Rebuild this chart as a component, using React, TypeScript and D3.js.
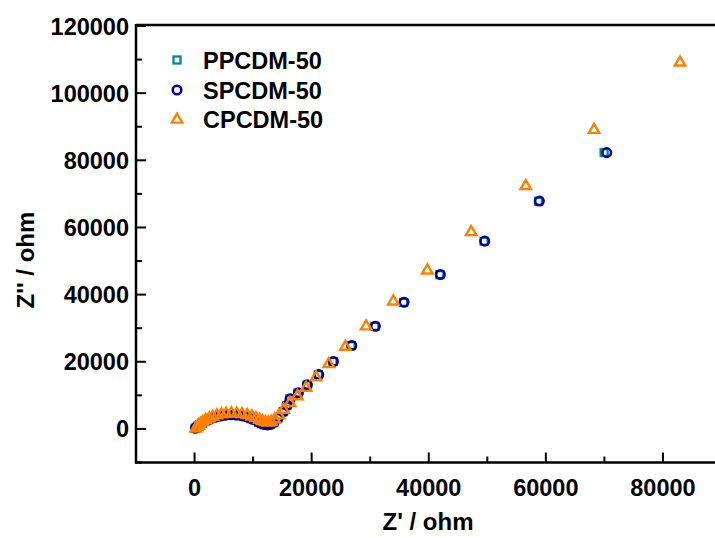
import React from "react";
import * as d3 from "d3";

const seriesNames = ["PPCDM-50", "SPCDM-50", "CPCDM-50"];
const seriesColors = ["#008C8C", "#0000A0", "#FF8000"];

const xTicks = [0, 20000, 40000, 60000, 80000];
const yTicks = [0, 20000, 40000, 60000, 80000, 100000, 120000];

// PPCDM-50 (squares) — mostly hidden behind circles
const ppX = [100, 300, 550, 850, 1250, 1750, 2350, 2950, 3650, 4450, 5250, 6150, 7050, 7950, 8850, 9650, 10350, 10950, 11450, 11950, 12450, 12950, 13550, 14250, 15150, 15750, 16250, 17650, 19200, 21150, 23650, 26750, 30800, 35700, 41900, 49450, 58750, 69950];
const ppY = [150, 450, 850, 1250, 1750, 2250, 2750, 3150, 3550, 3850, 4050, 4150, 4100, 3900, 3550, 3050, 2550, 1950, 1550, 1250, 1150, 1350, 1950, 3250, 5150, 6950, 8900, 10700, 13100, 16150, 20050, 24800, 30550, 37700, 45950, 55900, 67800, 82300];

// SPCDM-50 (circles)
const spX = [150, 350, 600, 900, 1300, 1800, 2400, 3000, 3700, 4500, 5300, 6200, 7100, 8000, 8900, 9700, 10400, 11000, 11500, 12000, 12500, 13000, 13600, 14300, 15200, 15800, 16310, 17730, 19270, 21210, 23710, 26850, 30880, 35780, 41980, 49560, 58890, 70400];
const spY = [200, 500, 900, 1300, 1800, 2300, 2800, 3200, 3600, 3900, 4100, 4200, 4150, 3950, 3600, 3100, 2600, 2000, 1600, 1300, 1200, 1400, 2000, 3300, 5200, 7000, 8940, 10730, 13120, 16190, 20070, 24840, 30590, 37740, 46000, 55930, 67860, 82290];

// CPCDM-50 (triangles)
const cpX = [200, 400, 700, 1000, 1400, 1900, 2500, 3100, 3800, 4600, 5400, 6300, 7200, 8100, 9000, 9800, 10500, 11100, 11600, 12100, 12600, 13100, 13700, 14400, 15200, 16300, 17560, 19040, 20750, 22920, 25760, 29300, 33950, 39760, 47240, 56570, 68230, 82920];
const cpY = [300, 700, 1200, 1700, 2200, 2800, 3300, 3800, 4200, 4500, 4700, 4800, 4750, 4600, 4300, 3900, 3400, 2900, 2500, 2200, 2100, 2300, 3000, 4200, 5900, 7900, 9930, 12400, 15590, 19470, 24630, 30710, 38140, 47380, 58800, 72510, 89240, 109300];

const W = 715;
const H = 538;
const left = 136;
const top = 26;
const bottom = 462.5;
const rightPx = 721.5;

const x = d3.scaleLinear().domain([-10000, 90000]).range([left, rightPx]);
const y = d3.scaleLinear().domain([-10000, 120000]).range([bottom, top]);

const font = "'Liberation Sans', Arial, Helvetica, sans-serif";

const Square = ({ cx, cy, color, s = 7 }: any) => (
  <rect x={cx - s / 2} y={cy - s / 2} width={s} height={s} fill="none" stroke={color} strokeWidth={2.3} />
);
const Circle = ({ cx, cy, color }: any) => (
  <circle cx={cx} cy={cy} r={4.3} fill="none" stroke={color} strokeWidth={2.5} />
);
const Triangle = ({ cx, cy, color }: any) => {
  const h = 9, w = 10.5;
  const p = `M${cx},${cy - h * 0.6} L${cx + w / 2},${cy + h * 0.4} L${cx - w / 2},${cy + h * 0.4} Z`;
  return <path d={p} fill="none" stroke={color} strokeWidth={2.4} strokeLinejoin="miter" />;
};

export default function App() {
  const xMinor = d3.range(-10000, 95000, 10000);
  const yMinor = d3.range(-10000, 125000, 10000);
  return (
    <svg width={W} height={H} style={{ position: "absolute", left: 0, top: 0, background: "#fff" }}>
      {/* data */}
      {ppX.map((v, i) => (
        <Square key={"p" + i} cx={x(v)} cy={y(ppY[i])} color={seriesColors[0]} />
      ))}
      {spX.map((v, i) => (
        <Circle key={"s" + i} cx={x(v)} cy={y(spY[i])} color={seriesColors[1]} />
      ))}
      {cpX.map((v, i) => (
        <Triangle key={"c" + i} cx={x(v)} cy={y(cpY[i])} color={seriesColors[2]} />
      ))}

      {/* frame */}
      <line x1={left} x2={W} y1={top - 1} y2={top - 1} stroke="#000" strokeWidth={2.5} />
      <line x1={left} x2={left} y1={top - 2} y2={bottom + 1} stroke="#000" strokeWidth={2.5} />
      <line x1={left - 1} x2={W} y1={bottom} y2={bottom} stroke="#000" strokeWidth={2.5} />

      {/* x ticks */}
      {xMinor.map((v) => {
        const major = v % 20000 === 0;
        return (
          <line key={"xt" + v} x1={x(v)} x2={x(v)} y1={bottom} y2={bottom - (major ? 10 : 6)} stroke="#000" strokeWidth={2} />
        );
      })}
      {yMinor.map((v) => {
        const major = v % 20000 === 0;
        return (
          <line key={"yt" + v} x1={left} x2={left + (major ? 10 : 6)} y1={y(v)} y2={y(v)} stroke="#000" strokeWidth={2} />
        );
      })}

      {xTicks.map((v) => (
        <text key={"xl" + v} x={x(v)} y={496} textAnchor="middle" fontFamily={font} fontWeight="bold" fontSize={23.5} fill="#000">
          {v}
        </text>
      ))}
      {yTicks.map((v) => (
        <text key={"yl" + v} x={129} y={y(v) + 8.5} textAnchor="end" fontFamily={font} fontWeight="bold" fontSize={23.5} fill="#000">
          {v}
        </text>
      ))}

      <text x={428} y={530} textAnchor="middle" fontFamily={font} fontWeight="bold" fontSize={24} fill="#000">
        Z' / ohm
      </text>
      <text transform="translate(34,260) rotate(-90)" textAnchor="middle" fontFamily={font} fontWeight="bold" fontSize={24} fill="#000">
        Z'' / ohm
      </text>

      {/* legend */}
      <Square cx={177} cy={60} color={seriesColors[0]} s={7} />
      <Circle cx={177} cy={90} color={seriesColors[1]} />
      <Triangle cx={177} cy={119} color={seriesColors[2]} />
      {seriesNames.map((n, i) => (
        <text key={n} x={203} y={[68.5, 98.5, 127.5][i]} fontFamily={font} fontWeight="bold" fontSize={23.5} fill="#000">
          {n}
        </text>
      ))}
    </svg>
  );
}
